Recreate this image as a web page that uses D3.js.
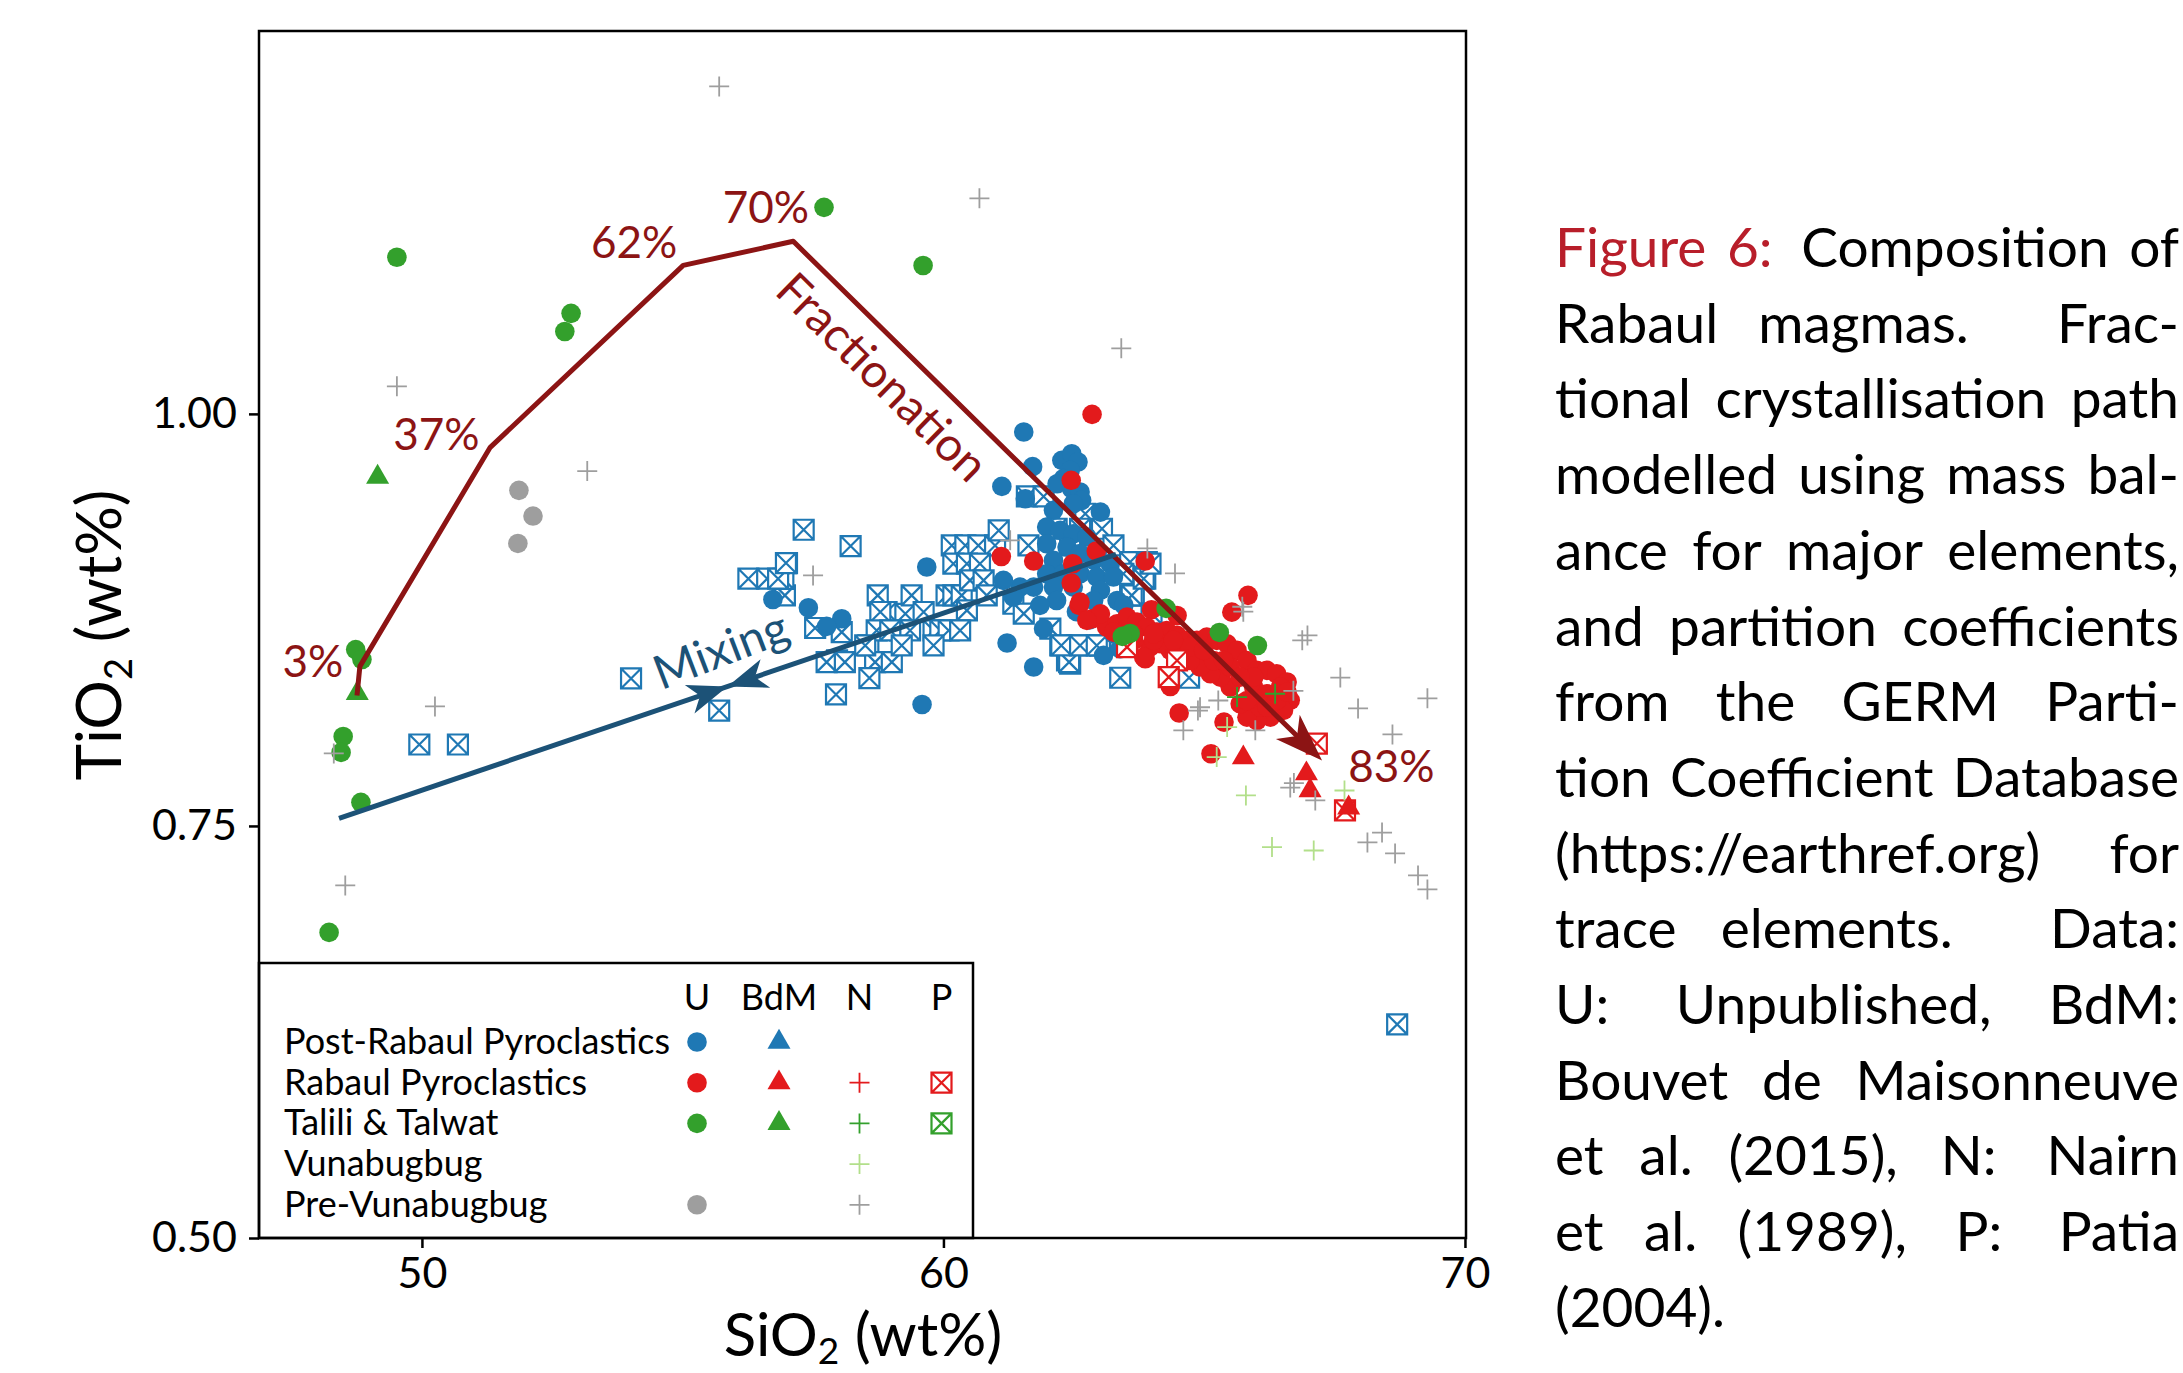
<!DOCTYPE html>
<html>
<head>
<meta charset="utf-8">
<script src="https://cdn.jsdelivr.net/npm/d3@7"></script>
<style>
  body { margin: 0; background: #fff; }
  svg  { display: block; }
  text { font-family: Lato, "Open Sans", sans-serif; }
</style>
</head>
<body>
<svg id="chart" width="2183" height="1373"></svg>
<script>
// ── Data (SiO2 wt%, TiO2 wt%) ────────────────────────────────────────────────

const xTicks = [50, 60, 70];
const yTicks = [0.50, 0.75, 1.00];

// Post-Rabaul Pyroclastics, U (circles)
const postRabaulU = [
  [61.54,0.989],[61.71,0.968],[61.12,0.956],[61.57,0.9485],[62.27,0.9718],[62.46,0.9758],[62.58,0.9708],
  [62.43,0.9657],[62.30,0.9607],[62.18,0.9576],[62.46,0.9546],[62.62,0.9526],[62.65,0.9475],[62.49,0.9455],
  [62.11,0.9415],[63.01,0.9404],[61.98,0.9313],[62.24,0.9293],[62.49,0.9273],[62.75,0.9253],[61.98,0.9212],
  [62.37,0.9192],[62.62,0.9152],[62.88,0.9111],[63.20,0.9091],[62.11,0.9111],[61.98,0.903],[62.30,0.903],
  [62.62,0.903],[62.94,0.901],[63.26,0.901],[61.73,0.8949],[61.47,0.8949],[62.11,0.8949],[62.49,0.8949],
  [63.01,0.8929],[63.33,0.8868],[62.17,0.8868],[62.88,0.8868],[61.85,0.8838],[61.15,0.899],[61.34,0.8889],
  [61.92,0.8697],[63.07,0.8535],[63.39,0.8575],[59.68,0.9071],[57.41,0.8824],[58.05,0.8757],[57.76,0.8711],
  [61.22,0.861],[61.73,0.8464],[59.59,0.8237],[63.26,0.8666],[56.73,0.8874],[63.46,0.884],[62.55,0.880],
  [62.80,0.875]
];

// Post-Rabaul Pyroclastics, boxed crosses
const postRabaulP = [
  [57.32,0.9297],[58.22,0.9198],[57.00,0.9095],[56.96,0.8899],[56.93,0.8999],[57.54,0.8701],[58.05,0.8676],
  [57.96,0.8504],[57.76,0.8494],[58.11,0.8494],[58.56,0.8595],[58.69,0.8494],[59.01,0.8494],[58.58,0.8397],
  [57.94,0.8298],[58.74,0.8899],[58.91,0.8798],[58.79,0.8798],[59.27,0.8787],[59.39,0.8899],[59.62,0.8798],
  [60.06,0.8899],[60.19,0.8899],[60.35,0.8899],[60.45,0.8808],[59.17,0.8686],[59.36,0.8686],[59.81,0.8686],
  [59.94,0.8686],[60.10,0.8686],[60.32,0.8686],[59.81,0.8595],[58.72,0.8686],[58.98,0.8686],[59.20,0.8595],
  [58.50,0.8595],[60.16,0.9202],[60.42,0.9202],[60.67,0.9202],[60.99,0.9202],[61.06,0.9293],[60.19,0.9091],
  [60.45,0.9091],[60.70,0.9091],[60.51,0.899],[60.77,0.899],[60.83,0.8899],[61.60,0.9499],[61.92,0.9499],
  [62.72,0.9394],[63.04,0.9303],[63.26,0.9202],[63.58,0.9101],[63.90,0.9101],[63.87,0.900],[63.65,0.8899],
  [63.45,0.903],[61.63,0.9202],[62.17,0.9303],[62.62,0.9303],[62.43,0.9202],[61.34,0.8848],[61.54,0.8788],
  [62.05,0.8697],[62.24,0.8595],[62.56,0.8595],[63.01,0.8595],[62.37,0.8504],[62.43,0.8484],[63.39,0.8399],
  [56.26,0.900],[56.62,0.900],[56.83,0.900],[56.98,0.9095],[54.01,0.8395],[55.70,0.820],[49.95,0.7994],
  [50.69,0.7994],[68.70,0.6296],[64.71,0.8399],[63.58,0.8899],[62.41,0.8494],[62.26,0.8595],[63.00,0.8595],
  [63.61,0.8899],[63.84,0.900],[63.97,0.9091],[62.62,0.8595],[62.94,0.8595],[63.99,0.8787]
];

// Rabaul Pyroclastics
const rabaulU = [
  [62.85,0.9997],[62.45,0.9597],[61.11,0.9135],[61.73,0.9107],[62.48,0.9091],[62.93,0.9168],[63.87,0.9107],
  [62.45,0.8974],[62.60,0.8838],[62.85,0.8757],[63.99,0.8812],[65.84,0.8899],[65.53,0.8797],[64.48,0.8777],
  [62.62,0.8858],[63.87,0.8514],[64.35,0.8346],[64.52,0.8185],[65.38,0.8130],[65.13,0.7938],
  [63.13,0.8706],[63.33,0.8727],[63.52,0.8767],[63.71,0.8737],[63.90,0.8706],[64.09,0.8676],[64.28,0.8686],
  [64.48,0.8656],[64.67,0.8626],[64.86,0.8626],[65.05,0.8646],[65.24,0.8626],[65.44,0.8605],[65.63,0.8565],
  [65.82,0.8504],[66.01,0.8444],[66.20,0.8444],[66.39,0.8423],[66.59,0.8373],[66.65,0.8262],[66.52,0.8201],
  [66.27,0.816],[66.01,0.814],[65.82,0.816],[65.69,0.8241],[65.50,0.8342],[65.31,0.8403],[65.12,0.8423],
  [64.92,0.8464],[64.73,0.8504],[64.54,0.8545],[64.35,0.8565],[64.16,0.8605],[63.96,0.8585],[63.84,0.8524],
  [64.03,0.8626],[63.65,0.8626],[63.26,0.8676],[63.01,0.8787],[62.75,0.8747],[64.73,0.8585],[65.18,0.8504],
  [65.50,0.8464],[65.95,0.8342],[66.20,0.8302],[66.46,0.8302],[66.07,0.8221],[65.82,0.8261],[66.20,0.8221],
  [66.39,0.8262],[65.95,0.8403],[65.69,0.8403],[65.37,0.8504],[64.99,0.8565],[66.46,0.8342],[66.59,0.8312],
  [63.65,0.8666],[64.03,0.8666],[64.41,0.8626]
];
const rabaulBdM = [[65.75,0.7914],[66.96,0.7817],[67.03,0.7715],[67.77,0.7610]];
const rabaulP   = [[67.16,0.800],[67.70,0.7594],[64.48,0.8504],[64.32,0.8403],[63.52,0.8585]];

// Talili & Talwat
const taliliU = [
  [49.52,1.095],[52.86,1.061],[52.74,1.050],[57.71,1.1253],[59.61,1.090],[48.73,0.857],[48.85,0.851],
  [48.49,0.8043],[48.45,0.7946],[48.83,0.7643],[48.22,0.6854],[64.27,0.882],[63.58,0.8668],[63.43,0.865],
  [65.29,0.8674],[66.02,0.8595]
];
const taliliBdM = [[49.15,0.9617],[48.76,0.8304]];
const taliliN   = [[65.63,0.8282],[66.36,0.8302]];

// Vunabugbug
const vunabugbugN = [[65.44,0.810],[65.24,0.7918],[65.80,0.7685],[66.30,0.7372],[67.10,0.7351],[67.69,0.7715]];

// Pre-Vunabugbug
const preVunaU = [[51.86,0.9536],[52.13,0.938],[51.84,0.9214]];
const preVunaN = [
  [55.70,1.1987],[60.69,1.1308],[63.41,1.0398],[49.52,1.0167],[53.17,0.9653],[50.25,0.8225],[48.53,0.7139],
  [48.31,0.794],[57.50,0.902],[61.28,0.9233],[63.91,0.9184],[64.44,0.9032],[65.73,0.8830],[65.75,0.8800],
  [66.98,0.8656],[66.88,0.8626],[67.61,0.840],[67.95,0.8213],[69.28,0.8274],[68.61,0.8055],[65.27,0.8261],
  [64.88,0.820],[64.92,0.822],[64.60,0.808],[65.98,0.808],[66.65,0.7733],[66.72,0.776],[67.13,0.7655],
  [68.41,0.746],[68.13,0.740],[68.66,0.7333],[69.10,0.720],[69.28,0.7115],[66.71,0.832]
];

// Model paths
const fractionationPath = [[48.755,0.8292],[48.81,0.8468],[51.31,0.9797],[55.01,1.0901],[57.12,1.1047],[67.26,0.7897]];
const fractionationLabels = [
  {text: '3%',  at: [48.49, 0.8401], anchor: 'end'},
  {text: '37%', at: [49.45, 0.9779], anchor: 'start'},
  {text: '62%', at: [53.24, 1.0944], anchor: 'start'},
  {text: '70%', at: [55.77, 1.1156], anchor: 'start'},
  {text: '83%', at: [67.76, 0.7764], anchor: 'start'}
];
const mixingLine = [[48.41,0.7546],[63.31,0.9147]];

// Legend
const legendCols = ['U', 'BdM', 'N', 'P'];
const legendRows = [
  {label: 'Post-Rabaul Pyroclastics', key: 'post'},
  {label: 'Rabaul Pyroclastics',      key: 'rabaul'},
  {label: 'Talili & Talwat',          key: 'talili'},
  {label: 'Vunabugbug',               key: 'vuna'},
  {label: 'Pre-Vunabugbug',           key: 'pre'}
];
const legendMarks = {
  post:   ['circle', 'triangle', null,   null],
  rabaul: ['circle', 'triangle', 'plus', 'box'],
  talili: ['circle', 'triangle', 'plus', 'box'],
  vuna:   [null,     null,       'plus', null],
  pre:    ['circle', null,       'plus', null]
};

const captionLines = [
  'Figure 6: Composition of',
  'Rabaul magmas. Frac-',
  'tional crystallisation path',
  'modelled using mass bal-',
  'ance for major elements,',
  'and partition coefficients',
  'from the GERM Parti-',
  'tion Coefficient Database',
  '(https://earthref.org) for',
  'trace elements. Data:',
  'U: Unpublished, BdM:',
  'Bouvet de Maisonneuve',
  'et al. (2015), N: Nairn',
  'et al. (1989), P: Patia',
  '(2004).'
];

// ── Styling ───────────────────────────────────────────────────────────────────

const COLORS = {
  post: '#1f78b4', rabaul: '#e31a1c', talili: '#33a02c', vuna: '#b2df8a', pre: '#9e9e9e'
};
const FRAC = '#8c1414';
const MIX  = '#1c5277';
const CAPRED = '#b81e2a';

const svg = d3.select('#chart');
const x = d3.scaleLinear().domain([46.876, 70.02]).range([259, 1466]);
const y = d3.scaleLinear().domain([0.5, 1.2323]).range([1238, 31]);

const SHAPES = {
  circle:   d3.symbol(d3.symbolCircle, Math.PI * 9.8 * 9.8)(),
  triangle: d3.symbol(d3.symbolTriangle, 230)(),
  plus:     'M-10,0H10M0,-10V10',
  box:      'M-10,-10H10V10H-10Z M-10,-10L10,10 M10,-10L-10,10'
};

function styleMark(sel, type, color) {
  sel.attr('d', SHAPES[type]);
  if (type === 'circle' || type === 'triangle') {
    sel.attr('fill', color).attr('stroke', 'none');
  } else if (type === 'plus') {
    sel.attr('fill', 'none').attr('stroke', color).attr('stroke-width', 1.8);
  } else {
    sel.attr('fill', '#fff').attr('stroke', color).attr('stroke-width', 2.2);
  }
}

// ── Points ────────────────────────────────────────────────────────────────────

const series = [
  {data: postRabaulP, type: 'box',      color: COLORS.post},
  {data: postRabaulU, type: 'circle',   color: COLORS.post},
  {data: preVunaU,    type: 'circle',   color: COLORS.pre},
  {data: rabaulU,     type: 'circle',   color: COLORS.rabaul},
  {data: rabaulP,     type: 'box',      color: COLORS.rabaul},
  {data: rabaulBdM,   type: 'triangle', color: COLORS.rabaul},
  {data: taliliU,     type: 'circle',   color: COLORS.talili},
  {data: taliliBdM,   type: 'triangle', color: COLORS.talili},
  {data: preVunaN,    type: 'plus',     color: COLORS.pre},
  {data: vunabugbugN, type: 'plus',     color: COLORS.vuna},
  {data: taliliN,     type: 'plus',     color: COLORS.talili}
];

const plot = svg.append('g');
series.forEach(s => {
  plot.append('g').selectAll('path').data(s.data).join('path')
    .attr('transform', d => `translate(${x(d[0])},${y(d[1])})`)
    .call(styleMark, s.type, s.color);
});

// ── Model lines ───────────────────────────────────────────────────────────────

function stealth(tip, dir, len, half, notch) {
  const [tx, ty] = tip, [dx, dy] = dir, px = -dy, py = dx;
  const bx = tx - len * dx, by = ty - len * dy;
  return `M${tx},${ty}L${bx + half * px},${by + half * py}` +
         `L${tx - (len - notch) * dx},${ty - (len - notch) * dy}` +
         `L${bx - half * px},${by - half * py}Z`;
}
function unit(a, b) {
  const dx = b[0] - a[0], dy = b[1] - a[1], l = Math.hypot(dx, dy);
  return [dx / l, dy / l];
}

// Fractionation
const fPts = fractionationPath.map(d => [x(d[0]), y(d[1])]);
const fTip = fPts[fPts.length - 1];
const fDir = unit(fPts[fPts.length - 2], fTip);
const fLinePts = fPts.slice(0, -1).concat([[fTip[0] - 30 * fDir[0], fTip[1] - 30 * fDir[1]]]);
svg.append('path')
  .attr('d', d3.line()(fLinePts))
  .attr('fill', 'none').attr('stroke', FRAC).attr('stroke-width', 5)
  .attr('stroke-linejoin', 'round');
svg.append('path').attr('d', stealth(fTip, fDir, 48, 17, 13)).attr('fill', FRAC);

// Mixing (two heads meeting at the midpoint)
const m0 = [x(mixingLine[0][0]), y(mixingLine[0][1])];
const m1 = [x(mixingLine[1][0]), y(mixingLine[1][1])];
const mMid = [(m0[0] + m1[0]) / 2, (m0[1] + m1[1]) / 2];
svg.append('path')
  .attr('d', d3.line()([m0, m1]))
  .attr('stroke', MIX).attr('stroke-width', 5).attr('fill', 'none');
svg.append('path').attr('d', stealth(mMid, unit(m0, m1), 40, 15, 11)).attr('fill', MIX);
svg.append('path').attr('d', stealth(mMid, unit(m1, m0), 40, 15, 11)).attr('fill', MIX);

// Labels
svg.append('g').selectAll('text').data(fractionationLabels).join('text')
  .attr('x', d => x(d.at[0])).attr('y', d => y(d.at[1]))
  .attr('text-anchor', d => d.anchor)
  .attr('font-size', 44).attr('fill', FRAC)
  .text(d => d.text);

const fAngle = Math.atan2(fTip[1] - fPts[4][1], fTip[0] - fPts[4][0]) * 180 / Math.PI;
svg.append('text')
  .attr('transform', `translate(${x(58.85)},${y(1.023)}) rotate(${fAngle})`)
  .attr('text-anchor', 'middle').attr('dominant-baseline', 'central')
  .attr('font-size', 47).attr('fill', FRAC)
  .text('Fractionation');

svg.append('text')
  .attr('transform', `translate(${x(55.72)},${y(0.8577)}) rotate(-21)`)
  .attr('text-anchor', 'middle').attr('dominant-baseline', 'central')
  .attr('font-size', 47).attr('fill', MIX)
  .text('Mixing');

// ── Axes ──────────────────────────────────────────────────────────────────────

const yAxis = svg.append('g').attr('transform', 'translate(259,0)')
  .call(d3.axisLeft(y).tickValues(yTicks).tickFormat(d3.format('.2f')).tickSize(10).tickPadding(12));
const xAxis = svg.append('g').attr('transform', 'translate(0,1238)')
  .call(d3.axisBottom(x).tickValues(xTicks).tickFormat(d3.format('d')).tickSize(10).tickPadding(9));
[xAxis, yAxis].forEach(a => {
  a.select('.domain').remove();
  a.selectAll('line').attr('stroke', '#000').attr('stroke-width', 2.5);
  a.selectAll('text').attr('font-size', 43).attr('fill', '#000').style('font-family', 'Lato');
});

const yTitle = svg.append('text')
  .attr('transform', 'translate(121,635) rotate(-90)')
  .attr('text-anchor', 'middle').attr('font-size', 62);
yTitle.append('tspan').text('TiO');
yTitle.append('tspan').attr('font-size', 38).attr('dy', 11).text('2');
yTitle.append('tspan').attr('dy', -11).text(' (wt%)');

const xTitle = svg.append('text')
  .attr('x', 863).attr('y', 1356)
  .attr('text-anchor', 'middle').attr('font-size', 60);
xTitle.append('tspan').text('SiO');
xTitle.append('tspan').attr('font-size', 37).attr('dy', 8).text('2');
xTitle.append('tspan').attr('dy', -8).text(' (wt%)');

// ── Legend ────────────────────────────────────────────────────────────────────

const lg = svg.append('g');
lg.append('rect').attr('x', 259).attr('y', 963).attr('width', 714).attr('height', 275)
  .attr('fill', '#fff').attr('stroke', '#000').attr('stroke-width', 2.5);
const colX = [697, 779, 859.5, 941.5];
const rowY = i => 1042 + i * 40.7;

lg.selectAll('text.hdr').data(legendCols).join('text')
  .attr('class', 'hdr')
  .attr('x', (d, i) => colX[i]).attr('y', 1010)
  .attr('text-anchor', 'middle').attr('font-size', 36)
  .text(d => d);

legendRows.forEach((r, i) => {
  lg.append('text').attr('x', 284).attr('y', rowY(i) + 12)
    .attr('font-size', 36).text(r.label);
  legendMarks[r.key].forEach((m, j) => {
    if (!m) return;
    lg.append('path')
      .attr('transform', `translate(${colX[j]},${rowY(i)})`)
      .call(styleMark, m, COLORS[r.key]);
  });
});

// Panel frame
svg.append('rect').attr('x', 259).attr('y', 31).attr('width', 1207).attr('height', 1207)
  .attr('fill', 'none').attr('stroke', '#000').attr('stroke-width', 2.5);

// ── Caption (justified) ───────────────────────────────────────────────────────

const CAP_L = 1555, CAP_R = 2179;
const cap = svg.append('g').attr('font-size', 55);
captionLines.forEach((line, i) => {
  const words = line.split(' ');
  const by = 267 + i * 75.7;
  const nodes = words.map((w, j) => cap.append('text')
    .attr('y', by)
    .attr('fill', (i === 0 && j < 2) ? CAPRED : '#000')
    .text(w));
  const widths = nodes.map(n => n.node().getComputedTextLength());
  const isLast = i === captionLines.length - 1;
  const weights = words.slice(0, -1).map(w =>
    /al\.$/.test(w) ? 1 : /\.$/.test(w) ? 2.2 : /:$/.test(w) ? 1.4 : /,$/.test(w) ? 1.2 : 1);
  const free = CAP_R - CAP_L - d3.sum(widths);
  const wsum = d3.sum(weights) || 1;
  let cx = CAP_L;
  nodes.forEach((n, j) => {
    n.attr('x', cx);
    cx += widths[j] + (isLast ? 14 : Math.max(8, free * (weights[j] || 0) / wsum));
  });
});
</script>
</body>
</html>
